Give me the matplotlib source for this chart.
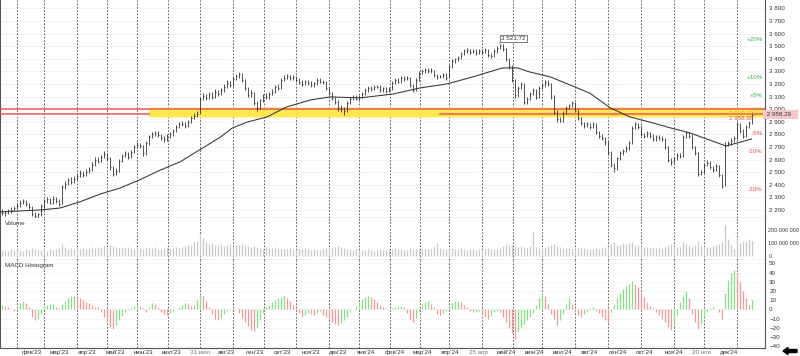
import numpy as np
import matplotlib
matplotlib.use('Agg')
import matplotlib.pyplot as plt
from matplotlib.patches import FancyArrow
from matplotlib.transforms import blended_transform_factory

plt.rcParams['font.family'] = ['Liberation Sans', 'DejaVu Sans']

# --- данные: ~2 торговых дня на бар, янв'23 .. янв'25 ---
close = [
    2180, 2175, 2190, 2200, 2215, 2235, 2260, 2270, 2245, 2225,
    2170, 2150, 2165, 2230, 2270, 2285, 2260, 2290, 2270, 2250,
    2380, 2410, 2440, 2425, 2450, 2470, 2495, 2480, 2505, 2520,
    2560, 2600, 2590, 2620, 2645, 2610, 2540, 2490, 2510, 2590,
    2630, 2645, 2620, 2660, 2700, 2720, 2705, 2650, 2730, 2780,
    2800, 2810, 2795, 2770, 2760, 2785, 2800, 2830, 2860, 2880,
    2885, 2870, 2900, 2930, 2950, 2965, 3080, 3105, 3090, 3120,
    3100, 3140, 3120, 3150, 3180, 3210, 3195, 3240, 3260, 3280,
    3230, 3170, 3110, 3130, 3050, 3010, 3070, 3110, 3095, 3120,
    3140, 3180, 3170, 3235, 3250, 3265, 3245, 3255, 3230, 3215,
    3200, 3220, 3210, 3190, 3205, 3230, 3220, 3215, 3170, 3130,
    3090, 3060, 3010, 3000, 2990, 3050, 3080, 3095, 3085, 3100,
    3120, 3150, 3170, 3160, 3175, 3180, 3150, 3165, 3145, 3160,
    3210, 3230, 3220, 3245, 3240, 3250, 3190, 3150, 3230, 3290,
    3300, 3315, 3300, 3310, 3270, 3255, 3260, 3275, 3250, 3340,
    3380, 3395, 3410, 3440, 3460, 3470, 3455, 3465, 3445, 3460,
    3455, 3470, 3430, 3420, 3460, 3490, 3510, 3480, 3400, 3340,
    3230, 3110, 3170, 3200, 3060, 3080, 3120, 3150, 3100, 3170,
    3190, 3220, 3200, 3100, 2980, 2920, 2910, 2970, 3010, 3030,
    3050, 2990, 2930, 2890, 2870, 2880, 2860, 2880, 2820, 2790,
    2770, 2740, 2660, 2560, 2530, 2610, 2650, 2670, 2690, 2730,
    2850, 2880, 2860, 2800, 2790, 2810, 2790, 2760, 2780, 2770,
    2760, 2700, 2600, 2580, 2610, 2640, 2630, 2780, 2810, 2790,
    2700, 2650, 2490, 2500, 2560, 2575, 2540, 2520, 2550, 2480,
    2390, 2720, 2730, 2750, 2770, 2880, 2830, 2790, 2860, 2890, 2958.29,
]
high = [
    2205, 2195, 2210, 2225, 2230, 2255, 2280, 2290, 2280, 2255,
    2235, 2185, 2180, 2245, 2285, 2305, 2295, 2310, 2300, 2285,
    2395, 2430, 2455, 2460, 2470, 2490, 2515, 2510, 2525, 2540,
    2580, 2620, 2625, 2640, 2665, 2655, 2620, 2550, 2530, 2605,
    2645, 2665, 2660, 2680, 2720, 2740, 2735, 2715, 2745, 2795,
    2820, 2830, 2825, 2805, 2785, 2800, 2820, 2845, 2875, 2900,
    2905, 2900, 2915, 2945, 2970, 2985, 3095, 3130, 3125, 3140,
    3135, 3160, 3155, 3170, 3200, 3230, 3225, 3260, 3280, 3295,
    3290, 3240, 3180, 3150, 3140, 3065, 3085, 3125, 3130, 3140,
    3160, 3195, 3200, 3250, 3270, 3280, 3275, 3270, 3265, 3245,
    3230, 3235, 3235, 3225, 3220, 3245, 3245, 3235, 3225, 3180,
    3140, 3100, 3070, 3030, 3015, 3065, 3095, 3110, 3110, 3115,
    3135, 3165, 3185, 3185, 3190, 3195, 3190, 3180, 3175, 3175,
    3225, 3245, 3245, 3260, 3260, 3265, 3255, 3200, 3245, 3305,
    3320, 3330, 3325, 3325, 3315, 3280, 3275, 3290, 3285, 3355,
    3395, 3410, 3425, 3455, 3475, 3485, 3480, 3480, 3475, 3475,
    3475, 3485, 3480, 3445, 3475, 3505, 3521.72, 3515, 3490, 3410,
    3350, 3240, 3185, 3215, 3210, 3095, 3135, 3165, 3160, 3185,
    3205, 3235, 3230, 3210, 3110, 2995, 2940, 2985, 3025, 3045,
    3065, 3060, 3000, 2940, 2900, 2895, 2890, 2895, 2890, 2830,
    2800, 2780, 2750, 2670, 2575, 2625, 2665, 2685, 2705, 2745,
    2865, 2895, 2890, 2870, 2815, 2825, 2820, 2800, 2795, 2795,
    2785, 2770, 2710, 2615, 2625, 2655, 2655, 2795, 2825, 2820,
    2800, 2710, 2660, 2520, 2575, 2595, 2590, 2550, 2565, 2560,
    2490, 2740, 2750, 2770, 2790, 2895, 2890, 2840, 2875, 2905, 2975,
]
low = [
    2160, 2150, 2165, 2180, 2190, 2205, 2225, 2245, 2230, 2205,
    2150, 2125, 2135, 2155, 2215, 2260, 2245, 2250, 2255, 2235,
    2250, 2370, 2400, 2410, 2415, 2440, 2460, 2465, 2470, 2495,
    2510, 2550, 2575, 2580, 2610, 2595, 2520, 2470, 2480, 2500,
    2580, 2620, 2605, 2610, 2650, 2690, 2690, 2630, 2640, 2720,
    2770, 2790, 2780, 2755, 2740, 2750, 2775, 2790, 2820, 2850,
    2865, 2855, 2860, 2890, 2920, 2940, 2960, 3070, 3070, 3080,
    3085, 3090, 3105, 3110, 3140, 3170, 3180, 3185, 3230, 3250,
    3215, 3150, 3095, 3100, 3035, 2990, 3000, 3060, 3080, 3085,
    3110, 3130, 3155, 3160, 3225, 3240, 3230, 3235, 3215, 3200,
    3185, 3190, 3195, 3175, 3180, 3195, 3205, 3200, 3150, 3115,
    3075, 3040, 2990, 2975, 2955, 2980, 3040, 3070, 3070, 3075,
    3090, 3110, 3140, 3145, 3150, 3165, 3135, 3140, 3130, 3135,
    3150, 3200, 3205, 3210, 3225, 3230, 3175, 3135, 3145, 3225,
    3280, 3290, 3285, 3290, 3255, 3240, 3245, 3250, 3235, 3245,
    3330, 3370, 3385, 3400, 3430, 3450, 3440, 3445, 3430, 3435,
    3440, 3445, 3415, 3405, 3415, 3450, 3480, 3465, 3380, 3320,
    3215, 3090, 3100, 3160, 3045, 3040, 3070, 3110, 3085, 3090,
    3160, 3180, 3185, 3085, 2960, 2900, 2895, 2900, 2960, 3000,
    3020, 2975, 2915, 2875, 2855, 2860, 2845, 2850, 2805, 2775,
    2755, 2720, 2640, 2540, 2505, 2520, 2600, 2640, 2660, 2680,
    2725, 2840, 2845, 2785, 2775, 2780, 2775, 2745, 2750, 2755,
    2745, 2685, 2585, 2560, 2570, 2600, 2615, 2625, 2770, 2775,
    2685, 2635, 2470, 2480, 2495, 2550, 2525, 2505, 2510, 2465,
    2375, 2390, 2705, 2720, 2740, 2765, 2810, 2770, 2780, 2850, 2880,
]
# объём, млн
volume = [
    45, 50, 38, 55, 48, 60, 52, 45, 58, 50,
    62, 55, 48, 52, 60, 45, 58, 50, 55, 62,
    95, 70, 60, 65, 55, 72, 60, 68, 58, 65,
    70, 62, 75, 68, 80, 72, 85, 78, 70, 65,
    70, 62, 75, 68, 60, 72, 65, 58, 70, 62,
    68, 75, 60, 55, 65, 70, 58, 62, 75, 68,
    72, 80, 85, 90, 110, 120, 170, 140, 110, 95,
    100, 90, 85, 95, 80, 88, 92, 78, 85, 90,
    95, 85, 80, 75, 82, 70, 65, 60, 72, 68,
    62, 70, 65, 58, 60, 55, 62, 58, 52, 60,
    58, 62, 55, 50, 60, 52, 48, 55, 62, 70,
    65, 72, 80, 75, 68, 60, 55, 50, 58, 52,
    50, 48, 55, 52, 45, 50, 58, 52, 48, 55,
    60, 62, 55, 58, 50, 52, 65, 60, 55, 58,
    62, 55, 60, 58, 70, 100, 65, 60, 55, 58,
    65, 60, 55, 62, 58, 52, 55, 60, 50, 55,
    52, 58, 62, 55, 60, 58, 65, 80, 95, 85,
    90, 75, 70, 80, 72, 65, 78, 185, 70, 62,
    65, 70, 78, 85, 95, 80, 72, 68, 62, 65,
    60, 58, 62, 70, 65, 60, 58, 55, 62, 60,
    65, 70, 80, 95, 110, 90, 85, 100, 95, 105,
    110, 90, 85, 80, 75, 70, 68, 72, 65, 70,
    65, 72, 85, 95, 80, 75, 70, 110, 95, 80,
    75, 85, 120, 90, 80, 75, 70, 78, 85, 95,
    110, 245, 130, 90, 60, 145, 100, 120, 110, 130, 115,
]
macd_hist = [
    5, 4, 2, 0, -2, 3, 7, 9, 7, 3,
    -8, -12, -10, -5, 2, 5, 6, 6, 3, 1,
    6, 9, 12, 14, 14, 13, 12, 10, 8, 7,
    5, 3, 2, -3, -8, -14, -19, -21, -17, -12,
    -7, -3, -1, 1, 4, 6, 4, 1, -3, 3,
    7, 6, 2, -3, -5, -6, -4, -2, 0, 3,
    5, 7, 6, 4, 5, 10, 17, 14, 9, 3,
    -5, -10, -12, -9, -5, -2, 0, 1, 0, -4,
    -9, -14, -18, -22, -24, -20, -12, -4, 2, 5,
    8, 10, 12, 13, 14, 12, 9, 5, 1, -4,
    -8, -6, -4, -5, -6, -4, -2, -6, -8, -11,
    -14, -16, -17, -15, -12, -8, -3, 0, 4, 8,
    11, 13, 14, 13, 11, 8, 5, 3, 1, 0,
    1, 3, 4, 4, 3, -4, -10, -14, -9, -2,
    6, 8, 9, 6, 2, -5, -6, -4, -2, 3,
    7, 9, 9, 8, 5, 2, -2, -3, -3, -2,
    -5, -8, -10, -7, -3, -2, -3, -8, -14, -20,
    -26, -32, -25, -20, -16, -12, -8, -4, 5, 12,
    18, 14, 6, -5, -11, -17, -12, -5, 5, 12,
    6, -3, -6, -8, -5, -2, 1, 2, -2, -4,
    -8, -12, -15, -3, 5, 12, 18, 22, 25, 27,
    31, 28, 24, 18, 13, 8, 4, 1, -3, -6,
    -10, -14, -19, -22, -18, -6, 8, 15, 20, 12,
    -5, -14, -21, -16, -8, -3, 1, 2, 0, -3,
    -10, 18, 32, 40, 43, 40, 30, 20, 12, 5, 10,
]
# скользящая средняя (точки)
ma_x = [0, 13, 27, 40, 53, 67, 80, 93, 107, 120, 133, 147, 155, 165, 178, 191,
        207, 220, 240, 262, 280, 298, 315, 335, 345, 353, 367, 380, 393, 407,
        420, 433, 447, 460, 473, 484, 501]
ma_val = [2185, 2193, 2201, 2216, 2264, 2328, 2375, 2439, 2518, 2582, 2677, 2780,
          2852, 2899, 2939, 3018, 3074, 3098, 3090, 3121, 3169, 3201, 3256, 3328,
          3328, 3296, 3256, 3193, 3129, 3010, 2939, 2899, 2852, 2812, 2756, 2708,
          2764]

level_hi = 3000.73
level_lo = 2958.68
peak = 3521.72
pct_levels = ['+20%', '+10%', '+5%', '-5%', '-10%', '-20%']
pct_mult = [1.20, 1.10, 1.05, 0.95, 0.90, 0.80]

# начала месяцев (фев'23 .. янв'25) в единицах оси x
month_lines = [11, 29, 51, 71, 91, 112, 133, 155, 176, 197, 219, 239,
               260, 280, 299, 321, 342, 361, 383, 405, 427, 449, 469, 491]
xlabels = ["фев'23", "мар'23", "апр'23", "май'23", "июн'23", "июл'23", "31 июл",
           "авг'23", "сен'23", "окт'23", "ноя'23", "дек'23", "янв'24", "фев'24",
           "мар'24", "апр'24", "25 апр", "май'24", "июн'24", "июл'24", "авг'24",
           "сен'24", "окт'24", "ноя'24", "20 ноя", "дек'24"]
special = {"31 июл", "25 апр", "20 ноя"}

x = 1 + 2 * np.arange(len(close))
close = np.array(close, dtype=float)
macd_hist = np.array(macd_hist, dtype=float)

W, H = 800, 356


def box(x0, y0, x1, y1):
    return [x0 / W, 1 - y1 / H, (x1 - x0) / W, (y1 - y0) / H]


fig = plt.figure(figsize=(8, 3.56), dpi=100)
ax = fig.add_axes(box(0, 0, 765, 218))
axv = fig.add_axes(box(0, 218, 765, 260), sharex=ax)
axm = fig.add_axes(box(0, 260, 765, 348), sharex=ax)

fs = 4.5
tc = '#333333'
for a in (ax, axv, axm):
    a.set_facecolor('white')
    a.spines['top'].set_visible(False)
    for s in ('left', 'right', 'bottom'):
        a.spines[s].set_color('#555555')
        a.spines[s].set_linewidth(0.8)
    a.yaxis.tick_right()
    a.tick_params(axis='y', length=0, pad=3, labelsize=fs, colors=tc)
    for m in month_lines:
        a.axvline(m, color='#444444', lw=0.6, ls=(0, (2, 2)), zorder=1)

ax.set_xlim(0, 510)

# --- цена ---
ax.set_ylim(2137, 3867)
yt = np.arange(2200, 3801, 100)
ax.set_yticks(yt)
ax.set_yticklabels([f"{v:,}".replace(',', ' ') for v in yt])
for v in yt:
    ax.axhline(v, color='#cfcfcf', lw=0.5, ls=(0, (1, 2)), zorder=0)

band_x0 = 99
ax.fill_between([band_x0, 510], 2932, 3018, color='#fff2a0', alpha=0.7, lw=0, zorder=2)
ax.fill_between([band_x0, 510], 2942, 3010, color='#ffe63a', alpha=0.85, lw=0, zorder=2)
ax.axhline(level_hi, color='#e8585f', lw=1.1, zorder=3)
ax.plot([0, band_x0], [level_lo, level_lo], color='#e8585f', lw=1.1, zorder=3)
ax.plot([293, 510], [level_lo, level_lo], color='#e8585f', lw=1.1, zorder=3)

ax.plot(ma_x, ma_val, color='#333333', lw=0.75, zorder=4)
ax.vlines(x, low, high, color='#333333', lw=0.6, zorder=5)
ax.hlines(close, x, x + 0.9, color='#333333', lw=0.6, zorder=5)

ipk = int(np.argmax(high))
ax.annotate(f"{peak:,.2f}".replace(',', ' '), xy=(x[ipk], peak), xytext=(342, 3562),
            fontsize=fs, color=tc, ha='center', va='center', zorder=6,
            bbox=dict(boxstyle='square,pad=0.2', fc='white', ec='#666666', lw=0.6),
            arrowprops=dict(arrowstyle='-', color='#555555', lw=0.6))

ax.text(486, 2970, f"{level_hi:,.2f}".replace(',', ' '), fontsize=fs, color='#f0a030',
        va='center', ha='left', zorder=6)
ax.text(486, 2923, f"{level_lo:,.2f}".replace(',', ' '), fontsize=fs, color='#e04848',
        va='center', ha='left', zorder=6)

bt = blended_transform_factory(ax.transAxes, ax.transData)
base = close[-1]
for lab, k in zip(pct_levels, pct_mult):
    col = '#3cb043' if k > 1 else '#e05050'
    ax.text(0.997, base * k, lab, transform=bt, fontsize=fs, color=col,
            ha='right', va='center', zorder=6)
ax.text(1.0, base, f" {base:,.2f}   ".replace(',', ' '), transform=bt, fontsize=fs,
        color=tc, ha='left', va='center', clip_on=False,
        bbox=dict(boxstyle='square,pad=0.25', fc='#f7c6c6', ec='none'))
ax.tick_params(axis='x', bottom=False, labelbottom=False)

# --- объём ---
axv.set_ylim(-28, 295)
axv.vlines(x, 0, volume, color='#c8c8c8', lw=0.9, zorder=2)
axv.set_yticks([0, 100, 200])
axv.set_yticklabels(['0', '100 000 000', '200 000 000'])
axv.tick_params(axis='y', labelsize=3.9, pad=2.5)
axv.tick_params(axis='x', bottom=False, labelbottom=False)
axv.text(0.007, 0.93, 'Volume', transform=axv.transAxes, fontsize=fs, color=tc, va='top')

# --- MACD ---
axm.set_ylim(-42, 53.6)
mt = np.arange(-40, 51, 10)
axm.set_yticks(mt)
for v in mt:
    axm.axhline(v, color='#dddddd', lw=0.5, ls=(0, (1, 2)), zorder=0)
rising = np.r_[True, macd_hist[1:] >= macd_hist[:-1]]
cols = np.where(rising, '#86e086', '#f09a9a')
axm.vlines(x, 0, macd_hist, colors=cols, lw=0.9, zorder=2)
axm.text(0.007, 0.97, 'MACD Histogram', transform=axm.transAxes, fontsize=fs, color=tc, va='top')

xpos = np.linspace(14.7, 480, len(xlabels))
axm.set_xticks(xpos)
axm.set_xticklabels(xlabels, ha='left')
axm.tick_params(axis='x', length=0, pad=1.5, labelsize=fs, colors=tc)
for t, lab in zip(axm.get_xticklabels(), xlabels):
    if lab in special:
        t.set_color('#777777')

fig.add_artist(FancyArrow(797 / W, 1 - 351 / H, -14 / W, 0, width=3 / H, head_width=7 / H,
                          head_length=5 / W, length_includes_head=True,
                          transform=fig.transFigure, color='black'))

fig.savefig('out.png', dpi=100)
plt.close(fig)
